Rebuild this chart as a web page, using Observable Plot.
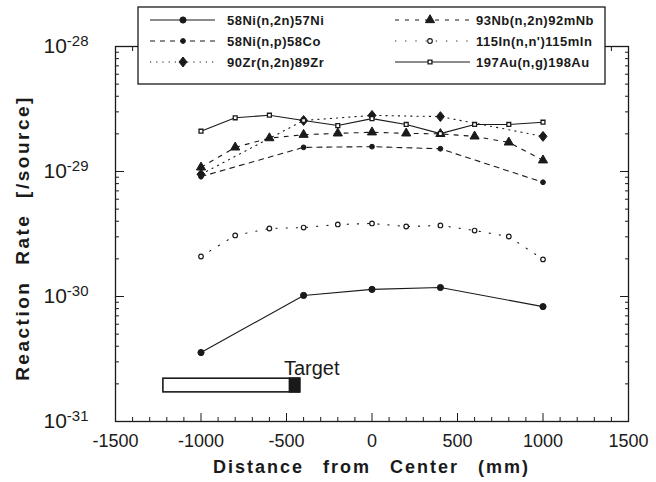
<!DOCTYPE html>
<html><head><meta charset="utf-8">
<script src="https://cdn.jsdelivr.net/npm/d3@7"></script>
<script src="https://cdn.jsdelivr.net/npm/@observablehq/plot@0.6"></script>
<style>
body{margin:0;background:#fff;}
#wrap{width:656px;height:482px;}
</style></head><body><div id="wrap"></div>
<script>
// ---- data ----
const positions = [-1000,-800,-600,-400,-200,0,200,400,600,800,1000];
const sparsePositions = [-1000,-400,0,400,1000];
const ni57  = [3.56e-31,1.02e-30,1.14e-30,1.18e-30,8.3e-31];
const co58  = [9.1e-30,1.56e-29,1.58e-29,1.52e-29,8.2e-30];
const zr89  = [9.5e-30,2.56e-29,2.81e-29,2.75e-29,1.91e-29];
const nb92m = [1.08e-29,1.56e-29,1.85e-29,1.97e-29,2.02e-29,2.06e-29,2.02e-29,2.00e-29,1.91e-29,1.71e-29,1.23e-29];
const in115m= [2.09e-30,3.08e-30,3.50e-30,3.56e-30,3.77e-30,3.84e-30,3.63e-30,3.70e-30,3.37e-30,3.02e-30,1.98e-30];
const au198 = [2.10e-29,2.69e-29,2.82e-29,2.56e-29,2.33e-29,2.65e-29,2.38e-29,2.01e-29,2.38e-29,2.38e-29,2.48e-29];
const seriesNames = ["58Ni(n,2n)57Ni","58Ni(n,p)58Co","90Zr(n,2n)89Zr","93Nb(n,2n)92mNb","115In(n,n')115mIn","197Au(n,g)198Au"];
const xTicks = [-1500,-1000,-500,0,500,1000,1500];
const yTicks = [1e-31,1e-30,1e-29,1e-28];
const yTickExponents = ["-31","-30","-29","-28"];
const xTitle = "Distance from Center (mm)";
const yTitle = "Reaction Rate [/source]";
const targetLabel = "Target";
const targetSpan = [-1220,-420];
const targetEnd = [-480,-420];
const targetRate = [1.71e-31,2.2e-31];

// ---- build ----
const W = 656, H = 482;
const mL = 115, mR = 28, mT = 46, mB = 61;
const ink = "#1a1a1a";
const xMinor = d3.range(-1500,1501,100).filter(v => !xTicks.includes(v));
const yMinor = [];
for (let e = -31; e < -28; e++) for (let k = 2; k < 10; k++) yMinor.push(k * Math.pow(10, e));

const rhomb = {draw(ctx, size){ const r = Math.sqrt(size/Math.PI); const h = r*1.3, w = r*1.05;
  ctx.moveTo(0,-h); ctx.lineTo(w,0); ctx.lineTo(0,h); ctx.lineTo(-w,0); ctx.closePath(); }};

const rows = (xs, vals) => xs.map((x,i) => ({x, v: vals[i]}));
const series = [
  {name: seriesNames[0], data: rows(sparsePositions, ni57), dash: null,      symbol: "circle",   fill: ink,     r: 3.1, sw: 1},
  {name: seriesNames[1], data: rows(sparsePositions, co58), dash: "5,5",     symbol: "circle",   fill: ink,     r: 2.4, sw: 1},
  {name: seriesNames[2], data: rows(sparsePositions, zr89), dash: "1.2,5",   symbol: rhomb,      fill: ink,     r: 3.8, sw: 1},
  {name: seriesNames[3], data: rows(positions, nb92m),      dash: "4,6",     symbol: "triangle", fill: ink,     r: 3.4, sw: 1},
  {name: seriesNames[4], data: rows(positions, in115m),     dash: "1.2,9",   symbol: "circle",   fill: "white", r: 2.3, sw: 1.2},
  {name: seriesNames[5], data: rows(positions, au198),      dash: null,      symbol: "square",   fill: "white", r: 2.2, sw: 1.3},
];

const marks = [];
for (const s of series) {
  marks.push(Plot.line(s.data, {x: "x", y: "v", stroke: ink, strokeWidth: 1.1, strokeDasharray: s.dash ?? undefined}));
}
for (const s of series) {
  marks.push(Plot.dot(s.data, {x: "x", y: "v", symbol: s.symbol, r: s.r, fill: s.fill, stroke: ink, strokeWidth: s.sw}));
}
// target
marks.push(Plot.rect([{x1: targetSpan[0], x2: targetSpan[1], y1: targetRate[0], y2: targetRate[1]}],
  {x1: "x1", x2: "x2", y1: "y1", y2: "y2", fill: "white", stroke: ink, strokeWidth: 1.6}));
marks.push(Plot.rect([{x1: targetEnd[0], x2: targetEnd[1], y1: targetRate[0], y2: targetRate[1]}],
  {x1: "x1", x2: "x2", y1: "y1", y2: "y2", fill: ink, stroke: ink, strokeWidth: 1.6}));
marks.push(Plot.text([{x: targetEnd[0], y: targetRate[1], t: targetLabel}],
  {x: "x", y: "y", text: "t", textAnchor: "start", lineAnchor: "bottom", dx: -6, dy: -4, fontSize: 20, fill: ink}));
// frame and ticks
marks.push(Plot.frame({stroke: ink, strokeWidth: 1.3}));
for (const anchor of ["bottom","top"]) {
  marks.push(Plot.axisX({ticks: xTicks, anchor, tickSize: -8, text: null, label: null, stroke: ink}));
  marks.push(Plot.axisX({ticks: xMinor, anchor, tickSize: -4, text: null, label: null, stroke: ink}));
}
for (const anchor of ["left","right"]) {
  marks.push(Plot.axisY({ticks: yTicks, anchor, tickSize: -9, text: null, label: null, stroke: ink}));
  marks.push(Plot.axisY({ticks: yMinor, anchor, tickSize: -4, text: null, label: null, stroke: ink}));
}
marks.push(Plot.axisX({ticks: xTicks, anchor: "bottom", tickSize: 0, tickPadding: 13, label: null,
  tickFormat: d => String(d), fontSize: 18, fill: ink}));
marks.push(Plot.axisY({ticks: yTicks, anchor: "left", tickSize: 0, tickPadding: 27, label: null,
  tickFormat: d => "10^" + yTickExponents[yTicks.indexOf(d)], fontSize: 21, fill: ink}));

const chart = Plot.plot({
  width: W, height: H,
  marginLeft: mL, marginRight: mR, marginTop: mT, marginBottom: mB,
  x: {domain: [-1500, 1500]},
  y: {type: "log", domain: [1e-31, 1e-28]},
  style: {fontFamily: "'Liberation Sans', Arial, sans-serif", fontSize: "18px", color: ink, background: "white"},
  marks
});

const svg = d3.select(chart);
// superscript exponents
svg.selectAll('g[aria-label="y-axis tick label"] text').each(function(){
  const parts = this.textContent.split("^");
  this.textContent = "";
  d3.select(this).append("tspan").text(parts[0]);
  d3.select(this).append("tspan").attr("dy", "-0.5em").attr("font-size", "15px").text(parts[1]);
});
// axis titles
svg.append("text").attr("x", mL + (W - mL - mR)/2).attr("y", 473)
  .attr("text-anchor", "middle").attr("font-weight", "bold").attr("font-size", 18)
  .attr("letter-spacing", 2).attr("word-spacing", 12).attr("fill", ink).text(xTitle);
svg.append("text").attr("transform", `translate(29,238) rotate(-90)`)
  .attr("text-anchor", "middle").attr("font-weight", "bold").attr("font-size", 19)
  .attr("letter-spacing", 2.5).attr("word-spacing", 8).attr("fill", ink).text(yTitle);

// legend
const lg = svg.append("g").attr("aria-label", "legend");
lg.append("rect").attr("x", 138).attr("y", 7).attr("width", 467).attr("height", 77)
  .attr("fill", "white").attr("stroke", ink).attr("stroke-width", 1.3);
const cols = [{x0: 150, x1: 215, mx: 183, tx: 227}, {x0: 395, x1: 470, mx: 430, tx: 476}];
series.forEach((s, k) => {
  const c = cols[Math.floor(k / 3)];
  const y = 20 + (k % 3) * 21;
  lg.append("line").attr("x1", c.x0).attr("x2", c.x1).attr("y1", y).attr("y2", y)
    .attr("stroke", ink).attr("stroke-width", 1.1).attr("stroke-dasharray", s.dash);
  const sym = typeof s.symbol === "string"
    ? {circle: d3.symbolCircle, triangle: d3.symbolTriangle, square: d3.symbolSquare}[s.symbol] : s.symbol;
  lg.append("path").attr("transform", `translate(${c.mx},${y})`)
    .attr("d", d3.symbol(sym, s.r * s.r * Math.PI)())
    .attr("fill", s.fill).attr("stroke", ink).attr("stroke-width", s.sw);
  lg.append("text").attr("x", c.tx).attr("y", y).attr("dy", "0.35em").attr("text-anchor", "start")
    .attr("font-size", 13).attr("font-weight", "bold").attr("letter-spacing", 0.5)
    .attr("fill", ink).text(s.name);
});

document.getElementById("wrap").appendChild(chart);
</script></body></html>
